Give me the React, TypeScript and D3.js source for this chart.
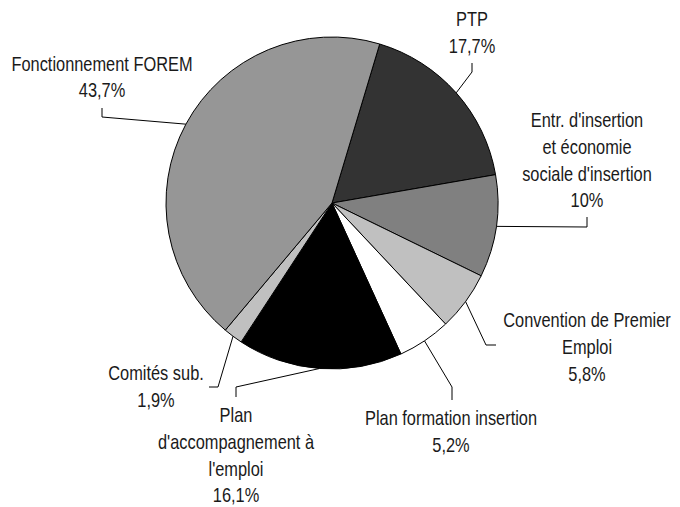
import * as d3 from "d3";
import React from "react";

const categories = [
  "PTP",
  "Entr. d'insertion et économie sociale d'insertion",
  "Convention de Premier Emploi",
  "Plan formation insertion",
  "Plan d'accompagnement à l'emploi",
  "Comités sub.",
  "Fonctionnement FOREM",
];
const shares = [17.7, 10, 5.8, 5.2, 16.1, 1.9, 43.7];
const shareLabels = ["17,7%", "10%", "5,8%", "5,2%", "16,1%", "1,9%", "43,7%"];
const fills = ["#333333", "#808080", "#c0c0c0", "#ffffff", "#000000", "#c0c0c0", "#969696"];

// label layout: text lines, text centre, first baseline, leader elbow + end
const labelLines = [
  ["PTP"],
  ["Entr. d'insertion", "et économie", "sociale d'insertion"],
  ["Convention de Premier", "Emploi"],
  ["Plan formation insertion"],
  ["Plan", "d'accompagnement à", "l'emploi"],
  ["Comités sub."],
  ["Fonctionnement FOREM"],
];
const labelPos = [
  { x: 472, y: 26, elbow: [472, 72], end: [472, 63] },
  { x: 587, y: 127, elbow: [587, 227], end: [587, 217] },
  { x: 587, y: 327, elbow: [486, 345], end: [496, 345] },
  { x: 451, y: 425, elbow: [452, 387], end: [452, 400] },
  { x: 236, y: 422, elbow: [236, 387], end: [236, 397] },
  { x: 156, y: 380, elbow: [218, 387], end: [209, 387] },
  { x: 102, y: 70.5, elbow: [102, 117], end: [102, 108] },
];

const W = 680;
const H = 507;
const cx = 332;
const cy = 203;
const radius = 166;
const lineH = 26.8;
const narrow = 0.82; // no narrow face installed, squeeze Liberation Sans instead

export default function App() {
  const start = (16.7 * Math.PI) / 180;
  const pie = d3
    .pie<number>()
    .sort(null)
    .value((d) => d)
    .startAngle(start)
    .endAngle(start + 2 * Math.PI);
  const arcs = pie(shares);

  const arc = d3.arc<d3.PieArcDatum<number>>().innerRadius(0).outerRadius(radius);
  const edge = d3.arc<d3.PieArcDatum<number>>().innerRadius(radius).outerRadius(radius);

  return (
    <div style={{ position: "fixed", left: 0, top: 0 }}>
      <svg width={W} height={H} style={{ display: "block", background: "#fff" }}>
        <g transform={`translate(${cx},${cy})`}>
          {arcs.map((a, i) => (
            <path key={categories[i]} d={arc(a) || ""} fill={fills[i]} stroke="#000" strokeWidth={1} />
          ))}
        </g>

        {/* leader lines */}
        {arcs.map((a, i) => {
          const [ex, ey] = edge.centroid(a);
          const p = labelPos[i];
          const pts: [number, number][] = [[cx + ex, cy + ey], p.elbow as [number, number], p.end as [number, number]];
          return (
            <path
              key={"l" + i}
              d={d3.line()(pts) || ""}
              fill="none"
              stroke="#000"
              strokeWidth={1}
            />
          );
        })}

        {/* labels */}
        {labelLines.map((lines, i) => (
          <g key={"t" + i} transform={`translate(${labelPos[i].x},${labelPos[i].y}) scale(${narrow},1)`}>
            <text
              textAnchor="middle"
              fontFamily="'Liberation Sans', Arial, sans-serif"
              fontSize={20}
              fill="#1a1a1a"
            >
              {[...lines, shareLabels[i]].map((s, j) => (
                <tspan key={j} x={0} y={j * lineH}>
                  {s}
                </tspan>
              ))}
            </text>
          </g>
        ))}
      </svg>
    </div>
  );
}
